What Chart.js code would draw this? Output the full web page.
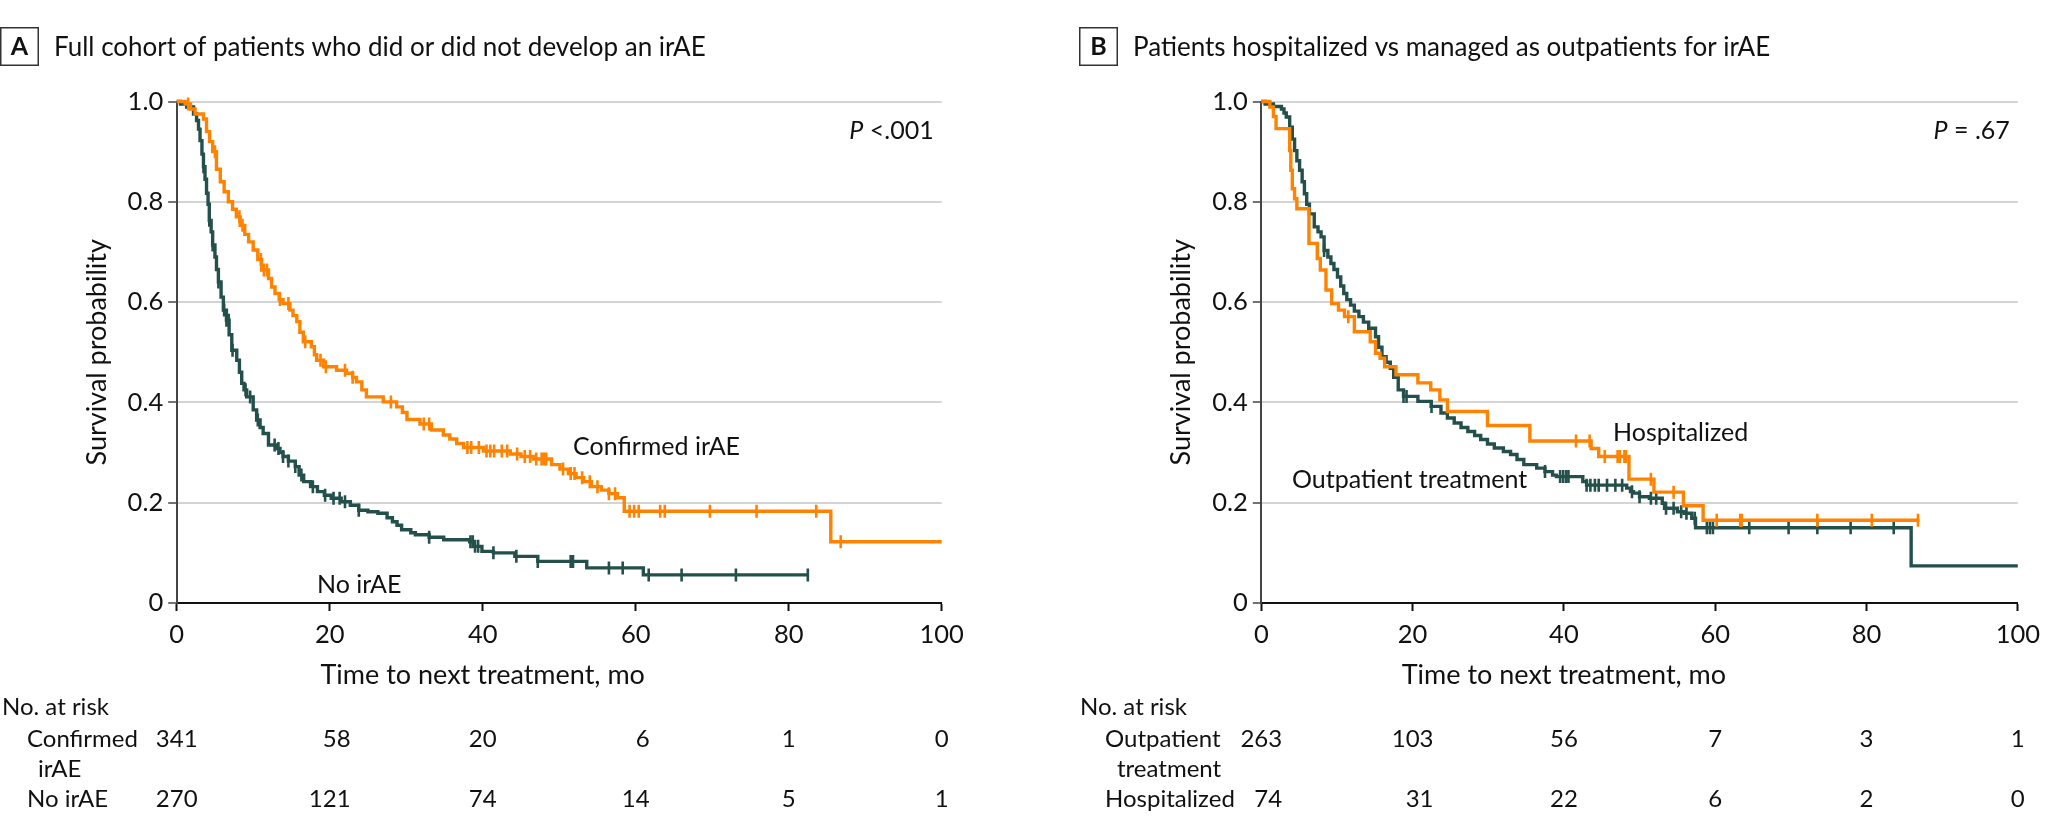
<!DOCTYPE html>
<html>
<head>
<meta charset="utf-8">
<script src="https://cdn.jsdelivr.net/npm/chart.js@4.4.1/dist/chart.umd.min.js"></script>
<style>
  html, body { margin: 0; padding: 0; background: #fff; }
  .panel { position: absolute; top: 0; width: 1024px; height: 833px; }
</style>
</head>
<body>
<div class="panel" style="left:0"><canvas id="chartA" width="1024" height="833"></canvas></div>
<div class="panel" style="left:1024px"><canvas id="chartB" width="1024" height="833"></canvas></div>
<script>
// [months, survival probability] at each step of the Kaplan-Meier curves
const irAECurve = [[0,1],[1.1,0.995],[1.8,0.985],[2.4,0.975],[3.5,0.965],[3.9,0.94],[4.3,0.92],[4.7,0.90],[5.2,0.865],[5.7,0.84],[6.2,0.82],[6.75,0.80],[7.3,0.785],[7.8,0.77],[8.3,0.753],[8.9,0.735],[9.4,0.72],[10.0,0.704],[10.6,0.685],[11.1,0.664],[12.0,0.647],[12.4,0.63],[12.85,0.617],[13.4,0.605],[13.9,0.597],[14.8,0.584],[15.2,0.573],[15.7,0.561],[16.1,0.54],[16.55,0.521],[17.6,0.511],[18.0,0.495],[18.3,0.484],[19.2,0.471],[20.9,0.464],[22.2,0.458],[23.0,0.45],[23.5,0.441],[24.2,0.425],[24.8,0.411],[27.0,0.401],[28.75,0.391],[29.5,0.38],[30.1,0.366],[31.8,0.357],[33.3,0.345],[34.85,0.335],[35.7,0.327],[36.6,0.318],[37.5,0.31],[40.1,0.303],[43.6,0.297],[45.0,0.292],[46.6,0.287],[49.0,0.276],[50.1,0.267],[51.2,0.258],[52.2,0.25],[53.2,0.242],[54.2,0.232],[55.5,0.225],[56.5,0.218],[57.6,0.21],[58.5,0.183],[85.5,0.122],[100,0.122]];
const irAECensor = [1.5,5.0,8.2,8.6,11.0,11.4,11.8,13.5,14.6,16.8,18.8,19.5,22.0,23.0,28.0,32.3,33.0,38.0,38.5,39.5,40.5,41.0,41.5,42.5,43.2,44.5,45.5,46.2,47.0,47.7,48.0,48.3,50.5,51.5,52.0,53.0,54.0,55.0,56.5,57.3,59.2,59.8,60.4,63.2,63.8,69.7,75.8,83.6,86.8];

const noIrAECurve = [[0,1],[0.5,0.995],[1.3,0.989],[2.2,0.975],[2.6,0.962],[2.85,0.945],[3.05,0.922],[3.3,0.895],[3.5,0.87],[3.7,0.845],[3.9,0.817],[4.1,0.795],[4.26,0.763],[4.5,0.74],[4.7,0.714],[5.0,0.69],[5.2,0.665],[5.45,0.64],[5.8,0.61],[6.1,0.584],[6.5,0.564],[6.85,0.535],[7.2,0.504],[7.85,0.484],[8.2,0.46],[8.5,0.438],[8.8,0.425],[9.15,0.411],[10.0,0.385],[10.45,0.365],[10.9,0.35],[11.3,0.338],[12.0,0.315],[13.1,0.308],[13.5,0.30],[13.9,0.292],[14.6,0.283],[15.5,0.272],[16.0,0.255],[16.6,0.242],[17.5,0.232],[18.4,0.222],[19.3,0.215],[20.2,0.209],[21.5,0.202],[22.7,0.195],[23.8,0.185],[25.0,0.182],[26.3,0.179],[27.5,0.17],[28.2,0.162],[28.8,0.155],[29.4,0.146],[30.6,0.14],[31.2,0.136],[33.0,0.131],[34.9,0.126],[38.3,0.122],[38.9,0.113],[39.9,0.103],[41.4,0.1],[44.2,0.093],[47.2,0.083],[53.6,0.07],[61.0,0.056],[82.5,0.056]];
const noIrAECensor = [3.5,4.26,4.7,5.45,6.2,6.5,6.8,7.3,9.0,9.6,10.6,12.8,13.3,13.9,14.6,15.5,16.3,17.8,19.4,20.5,21.3,22.0,23.8,33.0,38.4,38.7,39.0,39.4,41.4,44.4,47.2,51.5,51.8,56.5,58.3,61.7,66.0,73.1,82.5];

const outCurve = [[0,1],[0.5,0.995],[1.6,0.99],[2.66,0.985],[3.0,0.977],[3.3,0.969],[3.75,0.949],[4.1,0.925],[4.4,0.902],[4.7,0.882],[5.06,0.863],[5.4,0.84],[5.7,0.816],[6.0,0.795],[6.36,0.776],[7.0,0.75],[7.5,0.74],[7.9,0.73],[8.3,0.703],[8.8,0.69],[9.2,0.677],[9.6,0.665],[10.07,0.65],[10.5,0.632],[10.9,0.617],[11.3,0.605],[11.8,0.594],[12.3,0.582],[12.9,0.571],[13.5,0.56],[14.2,0.548],[15.1,0.531],[15.5,0.51],[15.95,0.491],[16.5,0.48],[17.05,0.468],[17.5,0.45],[18.1,0.425],[18.8,0.412],[20.7,0.402],[22.45,0.392],[23.75,0.379],[24.6,0.369],[25.5,0.359],[26.4,0.35],[27.3,0.342],[28.2,0.334],[29.0,0.326],[29.9,0.317],[30.8,0.309],[32.0,0.302],[32.95,0.296],[33.8,0.286],[34.7,0.276],[36.4,0.269],[37.5,0.262],[38.5,0.255],[39.0,0.252],[42.5,0.242],[43.0,0.235],[48.3,0.229],[48.8,0.222],[49.2,0.219],[50.0,0.212],[51.3,0.209],[53.0,0.199],[53.3,0.189],[55.0,0.182],[55.9,0.179],[56.9,0.169],[57.4,0.150],[85.9,0.074],[100,0.074]];
const outCensor = [8.3,18.8,19.2,22.5,37.5,39.5,39.9,40.3,40.6,43.0,43.5,44.1,44.6,45.7,46.8,47.7,49.0,50.0,51.5,52.2,53.5,54.5,55.5,56.2,57.3,58.9,59.3,59.7,64.5,69.7,73.5,77.9,83.6];

const hospCurve = [[0,1],[1.13,0.989],[1.6,0.97],[1.95,0.946],[3.75,0.902],[3.9,0.863],[4.1,0.826],[4.4,0.806],[4.7,0.786],[6.3,0.717],[7.4,0.687],[7.8,0.664],[8.55,0.624],[9.3,0.597],[10.2,0.584],[11.0,0.571],[12.3,0.541],[14.4,0.521],[15.1,0.498],[15.7,0.488],[16.3,0.471],[17.8,0.455],[20.7,0.439],[22.4,0.425],[23.6,0.405],[24.6,0.382],[29.9,0.354],[35.5,0.323],[43.6,0.308],[44.6,0.292],[48.6,0.247],[51.9,0.221],[55.8,0.194],[58.4,0.165],[87.0,0.165]];
const hospCensor = [11.5,41.6,43.4,45.4,47.1,47.4,48.0,48.2,51.5,54.5,60.2,63.3,63.5,73.5,80.7,86.8];

// numbers at risk
const riskTimes = [0, 20, 40, 60, 80, 100];
const riskIrAE = [341, 58, 20, 6, 1, 0];
const riskNoIrAE = [270, 121, 74, 14, 5, 1];
const riskOut = [263, 103, 56, 7, 3, 1];
const riskHosp = [74, 31, 22, 6, 2, 0];

const ORANGE = '#ff8200';
const TEAL = '#24504c';
const FONT = 'Lato, "Liberation Sans", sans-serif';

function stepPoints(curve) {
    return curve.map(p => ({ x: p[0], y: p[1] }));
}

function censorPoints(curve, times) {
    return times.map(t => {
        let y = curve[0][1];
        for (const p of curve) { if (p[0] <= t) y = p[1]; }
        return { x: t, y: y };
    });
}

const annotations = {
    id: 'annotations',
    afterDraw(chart, args, o) {
        const ctx = chart.ctx;
        const xs = chart.scales.x;
        const ca = chart.chartArea;
        ctx.save();
        ctx.fillStyle = '#111';
        ctx.textBaseline = 'alphabetic';

        // panel letter and title
        ctx.strokeStyle = '#333';
        ctx.lineWidth = 1.5;
        ctx.strokeRect(o.boxX + 0.75, 27.75, 37.5, 37.5);
        ctx.font = 'bold 25px ' + FONT;
        ctx.textAlign = 'center';
        ctx.fillText(o.letter, o.boxX + 19.5, 55);
        ctx.font = '26px ' + FONT;
        ctx.textAlign = 'left';
        ctx.fillText(o.title, o.boxX + 54, 56);

        // axis titles
        ctx.font = '27px ' + FONT;
        ctx.save();
        ctx.translate(ca.left - 71, (ca.top + ca.bottom) / 2);
        ctx.rotate(-Math.PI / 2);
        ctx.textAlign = 'center';
        ctx.fillText('Survival probability', 0, 0);
        ctx.restore();
        ctx.textAlign = 'center';
        ctx.fillText('Time to next treatment, mo', xs.getPixelForValue(40), 684);

        // P value
        ctx.font = '25px ' + FONT;
        ctx.textAlign = 'right';
        const pRight = ca.right - 8;
        ctx.fillText(o.pText, pRight, 139);
        const w = ctx.measureText(o.pText).width;
        ctx.font = 'italic 25px ' + FONT;
        ctx.fillText('P', pRight - w, 139);

        // curve labels
        ctx.font = '25px ' + FONT;
        ctx.textAlign = 'left';
        o.labels.forEach(l => ctx.fillText(l.text, l.x, l.y));

        // numbers at risk: each column right-aligned, centred on its tick
        ctx.font = '24px ' + FONT;
        ctx.fillText('No. at risk', o.tableX, 715);
        o.rows.forEach(r => {
            r.lines.forEach((line, i) => ctx.fillText(line, o.tableX + 25 + i * r.indent, r.y + i * 30));
        });
        ctx.textAlign = 'right';
        riskTimes.forEach((t, i) => {
            const colW = Math.max(...o.rows.map(r => ctx.measureText(String(r.values[i])).width));
            const xr = xs.getPixelForValue(t) + colW / 2;
            o.rows.forEach(r => ctx.fillText(String(r.values[i]), xr, r.y));
        });
        ctx.restore();
    }
};

function makeChart(id, left, right, curves, opts) {
    const datasets = [];
    curves.forEach((c, k) => {
        datasets.push({
            data: stepPoints(c.curve), stepped: true, borderColor: c.color, borderWidth: 3.4,
            pointRadius: 0, fill: false, order: k, clip: 6
        });
        datasets.push({
            data: censorPoints(c.curve, c.censor), showLine: false, pointStyle: 'line', rotation: 90,
            pointRadius: 6.5, borderColor: c.color, borderWidth: 2.6, order: k, clip: 8
        });
    });
    return new Chart(document.getElementById(id), {
        type: 'line',
        data: { datasets: datasets },
        options: {
            responsive: false,
            animation: false,
            devicePixelRatio: 1,
            layout: { padding: { top: 101.5, right: right, bottom: 0, left: 0 } },
            plugins: { legend: { display: false }, tooltip: { enabled: false }, annotations: opts },
            scales: {
                x: {
                    type: 'linear', min: 0, max: 100,
                    afterFit: s => { s.height = 230; },
                    ticks: { stepSize: 20, color: '#111', padding: 8, font: { family: FONT, size: 25.5 }, maxRotation: 0 },
                    grid: { drawOnChartArea: false, tickLength: 8, tickColor: '#111', tickWidth: 2 },
                    border: { color: '#111', width: 2 }
                },
                y: {
                    min: 0, max: 1,
                    afterFit: s => { s.width = left; },
                    ticks: {
                        stepSize: 0.2, color: '#111', padding: 5, font: { family: FONT, size: 25.5 },
                        callback: v => v === 0 ? '0' : v.toFixed(1)
                    },
                    grid: {
                        color: c => c.tick && c.tick.value === 0 ? 'rgba(0,0,0,0)' : '#d4d4d4',
                        lineWidth: 2, tickLength: 8.5, tickColor: '#444', tickWidth: 1.5
                    },
                    border: { color: '#444', width: 2 }
                }
            }
        },
        plugins: [annotations]
    });
}

makeChart('chartA', 176.7, 82.3, [
    { curve: irAECurve, censor: irAECensor, color: ORANGE },
    { curve: noIrAECurve, censor: noIrAECensor, color: TEAL }
], {
    letter: 'A', boxX: 0, title: 'Full cohort of patients who did or did not develop an irAE',
    pText: ' <.001',
    labels: [{ text: 'Confirmed irAE', x: 573, y: 455 }, { text: 'No irAE', x: 317, y: 593 }],
    tableX: 2,
    rows: [
        { lines: ['Confirmed', 'irAE'], indent: 11, y: 747, values: riskIrAE },
        { lines: ['No irAE'], indent: 0, y: 807, values: riskNoIrAE }
    ]
});

makeChart('chartB', 237.3, 22.3, [
    { curve: hospCurve, censor: hospCensor, color: ORANGE },
    { curve: outCurve, censor: outCensor, color: TEAL }
], {
    letter: 'B', boxX: 55, title: 'Patients hospitalized vs managed as outpatients for irAE',
    pText: ' = .67',
    labels: [{ text: 'Hospitalized', x: 589, y: 441 }, { text: 'Outpatient treatment', x: 268, y: 488 }],
    tableX: 56,
    rows: [
        { lines: ['Outpatient', 'treatment'], indent: 12, y: 747, values: riskOut },
        { lines: ['Hospitalized'], indent: 0, y: 807, values: riskHosp }
    ]
});
</script>
</body>
</html>
